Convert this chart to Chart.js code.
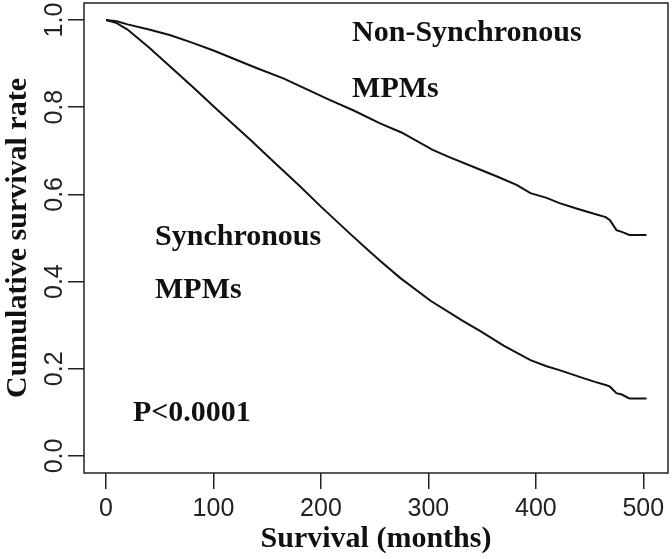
<!DOCTYPE html>
<html>
<head>
<meta charset="utf-8">
<script src="https://cdn.jsdelivr.net/npm/chart.js@4.4.1/dist/chart.umd.min.js"></script>
<style>
  html, body { margin: 0; padding: 0; background: #fff; }
  #wrap { width: 672px; height: 559px; }
</style>
</head>
<body>
<div id="wrap"><canvas id="survChart" width="672" height="559"></canvas></div>
<script>
// Survival curves (months, cumulative survival)
const nonSyncMonths = [0, 10, 20, 40, 60, 80, 100, 120, 140, 165, 185, 208, 230, 255, 275, 304, 320, 345, 365, 382, 395, 410, 422, 440, 455, 465, 469, 475, 480, 487, 503];
const nonSyncSurv   = [1.0, 0.997, 0.99, 0.978, 0.965, 0.948, 0.93, 0.91, 0.89, 0.866, 0.843, 0.817, 0.793, 0.763, 0.742, 0.702, 0.685, 0.66, 0.64, 0.622, 0.603, 0.592, 0.58, 0.566, 0.555, 0.548, 0.541, 0.518, 0.514, 0.507, 0.507];

const syncMonths = [0, 10, 20, 40, 63, 80, 104, 134, 156, 180, 200, 227, 243, 255, 274, 302, 332, 348, 370, 395, 410, 422, 440, 455, 465, 469, 475, 480, 487, 503];
const syncSurv   = [1.0, 0.993, 0.978, 0.937, 0.886, 0.848, 0.793, 0.726, 0.675, 0.62, 0.572, 0.51, 0.474, 0.448, 0.408, 0.356, 0.31, 0.287, 0.253, 0.22, 0.206, 0.197, 0.182, 0.17, 0.163, 0.159, 0.144, 0.141, 0.132, 0.132];

const xTicks = [0, 100, 200, 300, 400, 500];
const yTicks = [0, 0.2, 0.4, 0.6, 0.8, 1.0];

// text labels inside the plot, anchored in data units
const notes = [
  { text: 'Non-Synchronous', x: 229, y: 0.952 },
  { text: 'MPMs', x: 229, y: 0.823 },
  { text: 'Synchronous', x: 45.6, y: 0.484 },
  { text: 'MPMs', x: 45.6, y: 0.362 },
  { text: 'P<0.0001', x: 25, y: 0.080 }
];

const toPoints = (xs, ys) => xs.map((x, i) => ({ x: x, y: ys[i] }));

const boxPlugin = {
  id: 'box',
  afterDraw(chart) {
    const { ctx, chartArea: a } = chart;
    ctx.save();
    ctx.strokeStyle = '#222';
    ctx.lineWidth = 1.5;
    ctx.strokeRect(a.left, a.top, a.right - a.left, a.bottom - a.top);
    ctx.restore();
  }
};

const notesPlugin = {
  id: 'notes',
  afterDraw(chart) {
    const ctx = chart.ctx;
    const xs = chart.scales.x, ys = chart.scales.y;
    ctx.save();
    ctx.fillStyle = '#111';
    ctx.font = 'bold 30px "Liberation Serif", "Times New Roman", serif';
    ctx.textAlign = 'left';
    ctx.textBaseline = 'alphabetic';
    notes.forEach(n => {
      ctx.fillText(n.text, xs.getPixelForValue(n.x), ys.getPixelForValue(n.y));
    });
    ctx.restore();
  }
};

const tickFont = { family: '"Liberation Sans", Arial, sans-serif', size: 25 };
const titleFont = { family: '"Liberation Serif", "Times New Roman", serif', size: 30, weight: 'bold' };

new Chart(document.getElementById('survChart').getContext('2d'), {
  type: 'line',
  data: {
    datasets: [
      {
        label: 'Non-Synchronous MPMs',
        data: toPoints(nonSyncMonths, nonSyncSurv),
        borderColor: '#111',
        borderWidth: 2,
        pointRadius: 0,
        tension: 0,
        fill: false
      },
      {
        label: 'Synchronous MPMs',
        data: toPoints(syncMonths, syncSurv),
        borderColor: '#111',
        borderWidth: 2,
        pointRadius: 0,
        tension: 0,
        fill: false
      }
    ]
  },
  options: {
    responsive: false,
    animation: false,
    layout: { padding: { top: 3, right: 4, left: 0, bottom: 0 } },
    plugins: {
      legend: { display: false },
      tooltip: { enabled: false }
    },
    scales: {
      x: {
        type: 'linear',
        min: -20.5,
        max: 523,
        afterBuildTicks: s => { s.ticks = xTicks.map(v => ({ value: v })); },
        afterFit: s => { s.height = 86; s.paddingLeft = 0; s.paddingRight = 0; },
        grid: { drawOnChartArea: false, drawTicks: true, tickLength: 16, color: '#222', lineWidth: 1.5 },
        border: { display: false },
        ticks: { font: tickFont, color: '#222', padding: 5, maxRotation: 0, minRotation: 0 },
        title: { display: true, text: 'Survival (months)', font: titleFont, color: '#111', padding: { top: 0, bottom: 2 } }
      },
      y: {
        type: 'linear',
        min: -0.039,
        max: 1.039,
        afterBuildTicks: s => { s.ticks = yTicks.map(v => ({ value: v })); },
        afterFit: s => { s.width = 84; s.paddingTop = 0; s.paddingBottom = 0; },
        grid: { drawOnChartArea: false, drawTicks: true, tickLength: 16, color: '#222', lineWidth: 1.5 },
        border: { display: false },
        ticks: {
          font: tickFont, color: '#222', padding: -4,
          minRotation: 90, maxRotation: 90, crossAlign: 'center',
          callback: v => v.toFixed(1)
        },
        title: { display: true, text: 'Cumulative survival rate', font: titleFont, color: '#111', padding: { top: 0, bottom: 0 } }
      }
    }
  },
  plugins: [boxPlugin, notesPlugin]
});
</script>
</body>
</html>
